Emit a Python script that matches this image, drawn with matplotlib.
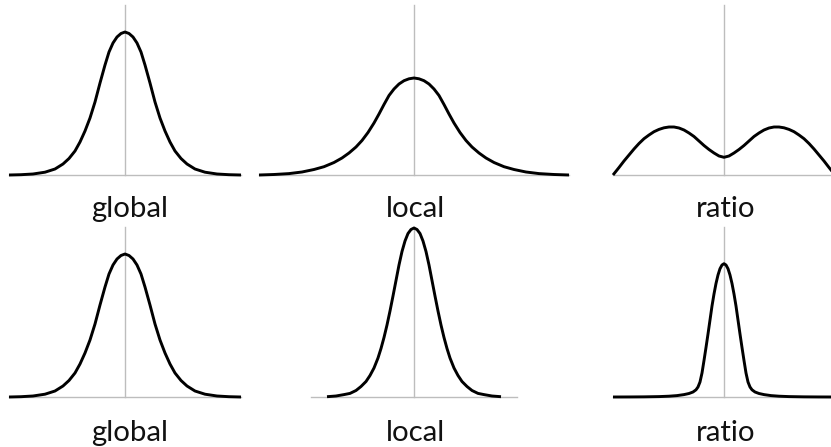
import matplotlib
matplotlib.use('Agg')
import matplotlib.pyplot as plt

plt.rcParams['font.family'] = ['Lato', 'DejaVu Sans']

W, H = 831, 447

# curve samples:
# x = offset from the centre line, y = height above the baseline (both in px)
global_x = [-116, -104, -92, -80, -70, -62, -56, -50, -45, -40, -35, -30, -25, -20, -16, -12, -8, -4,
            0, 4, 8, 12, 16, 20, 25, 30, 35, 40, 45, 50, 56, 62, 70, 80, 92, 104, 116]
global_y = [0, 0.3, 1, 2.8, 6, 11, 16.5, 24, 33, 44, 57, 73, 92, 110, 123, 132, 138, 141.5,
            143, 141.5, 138, 132, 123, 110, 92, 73, 57, 44, 33, 24, 16.5, 11, 6, 2.8, 1, 0.3, 0]

local_top_x = [-155, -140, -125, -112, -100, -90, -80, -72, -65, -58, -52, -46, -40, -35, -30, -25, -20, -15, -10, -5,
               0, 5, 10, 15, 20, 25, 30, 35, 40, 46, 52, 58, 65, 72, 80, 90, 100, 112, 125, 140, 155]
local_top_y = [0, 0.5, 1.4, 3, 5.5, 8.3, 12.5, 17, 22, 28, 34.5, 42.5, 52, 61, 70.5, 79.5, 86, 91, 94.3, 96.2,
               97, 96.2, 94.3, 91, 86, 79.5, 70.5, 61, 52, 42.5, 34.5, 28, 22, 17, 12.5, 8.3, 5.5, 3, 1.4, 0.5, 0]

ratio_top_x = [-111, -105, -100, -95, -90, -85, -80, -75, -70, -65, -60, -55, -50, -45, -40, -35, -30, -25, -20, -15, -10, -5,
               0, 5, 10, 15, 20, 25, 30, 35, 40, 45, 50, 55, 60, 65, 70, 75, 80, 85, 90, 95, 100, 105, 111]
ratio_top_y = [0, 7.5, 14, 20, 26, 31.5, 36.3, 40, 43.3, 45.6, 47.2, 48, 48, 47, 45, 42, 38.5, 34, 29.5, 25.5, 22, 19,
               17.7, 19, 22, 25.5, 29.5, 34, 38.5, 42, 45, 47, 48, 48, 47.2, 45.6, 43.3, 40, 36.3, 31.5, 26, 20, 14, 7.5, 0]

local_bot_x = [-87, -78, -70, -64, -58, -53, -48, -44, -40, -36, -33, -30, -27, -24, -21, -18, -15, -12, -9, -6, -3,
               0, 3, 6, 9, 12, 15, 18, 21, 24, 27, 30, 33, 36, 40, 44, 48, 53, 58, 64, 70, 78, 87]
local_bot_y = [0.3, 1, 2.4, 3.6, 6.5, 10.5, 15.5, 21.5, 29, 39, 48.5, 59.5, 72, 86, 101, 116.5, 132, 145.5, 156, 163.5, 167.5,
               169, 167.5, 163.5, 156, 145.5, 132, 116.5, 101, 86, 72, 59.5, 48.5, 39, 29, 21.5, 15.5, 10.5, 6.5, 3.6, 2.4, 1, 0.3]

ratio_bot_x = [-111, -95, -80, -65, -55, -47, -40, -35, -31, -28, -26, -24, -22, -20, -18, -16, -14, -12, -10, -8, -6, -4, -2,
               0, 2, 4, 6, 8, 10, 12, 14, 16, 18, 20, 22, 24, 26, 28, 31, 35, 40, 47, 55, 65, 80, 95, 111]
ratio_bot_y = [0, 0.05, 0.15, 0.4, 0.8, 1.4, 2.4, 3.5, 5, 7.2, 10, 15, 24, 36.5, 49.5, 63, 77, 91, 103, 113.5, 122, 128.3, 132,
               133.3, 132, 128.3, 122, 113.5, 103, 91, 77, 63, 49.5, 36.5, 24, 15, 10, 7.2, 5, 3.5, 2.4, 1.4, 0.8, 0.4, 0.15, 0.05, 0]

labels = ['global', 'local', 'ratio', 'global', 'local', 'ratio']
curves = [(global_x, global_y), (local_top_x, local_top_y), (ratio_top_x, ratio_top_y),
          (global_x, global_y), (local_bot_x, local_bot_y), (ratio_bot_x, ratio_bot_y)]

# panel layout in px: centre line x, baseline y, half width of baseline, label x
panels = [(125, 175, 116, 130), (414, 175, 155, 415.5), (724, 175, 111, 725.5),
          (125, 397, 116, 130), (414, 397, 103, 415.5), (724, 397, 111, 725.5)]
axis_h = 170
label_drop = [42, 42, 42, 44, 44, 44]

fig = plt.figure(figsize=(W / 100, H / 100), dpi=100)

for i, ((cx, base, hw, lx), (xs, ys)) in enumerate(zip(panels, curves)):
    ax = fig.add_axes([(cx - hw) / W, (H - base) / H, 2 * hw / W, axis_h / H])
    ax.set_xlim(-hw, hw)
    ax.set_ylim(0, axis_h)
    ax.axis('off')
    ax.axhline(0, color='#bdbdbd', lw=1.0, zorder=1, clip_on=False)
    ax.axvline(0, color='#bdbdbd', lw=1.0, zorder=1, clip_on=False)
    ax.plot(xs, ys, color='black', lw=2.1, solid_capstyle='butt',
            solid_joinstyle='round', zorder=3, clip_on=False)
    fig.text(lx / W, 1 - (base + label_drop[i]) / H, labels[i],
             ha='center', va='baseline', fontsize=21.2, color='#111111')

fig.savefig('out.png', dpi=100)
